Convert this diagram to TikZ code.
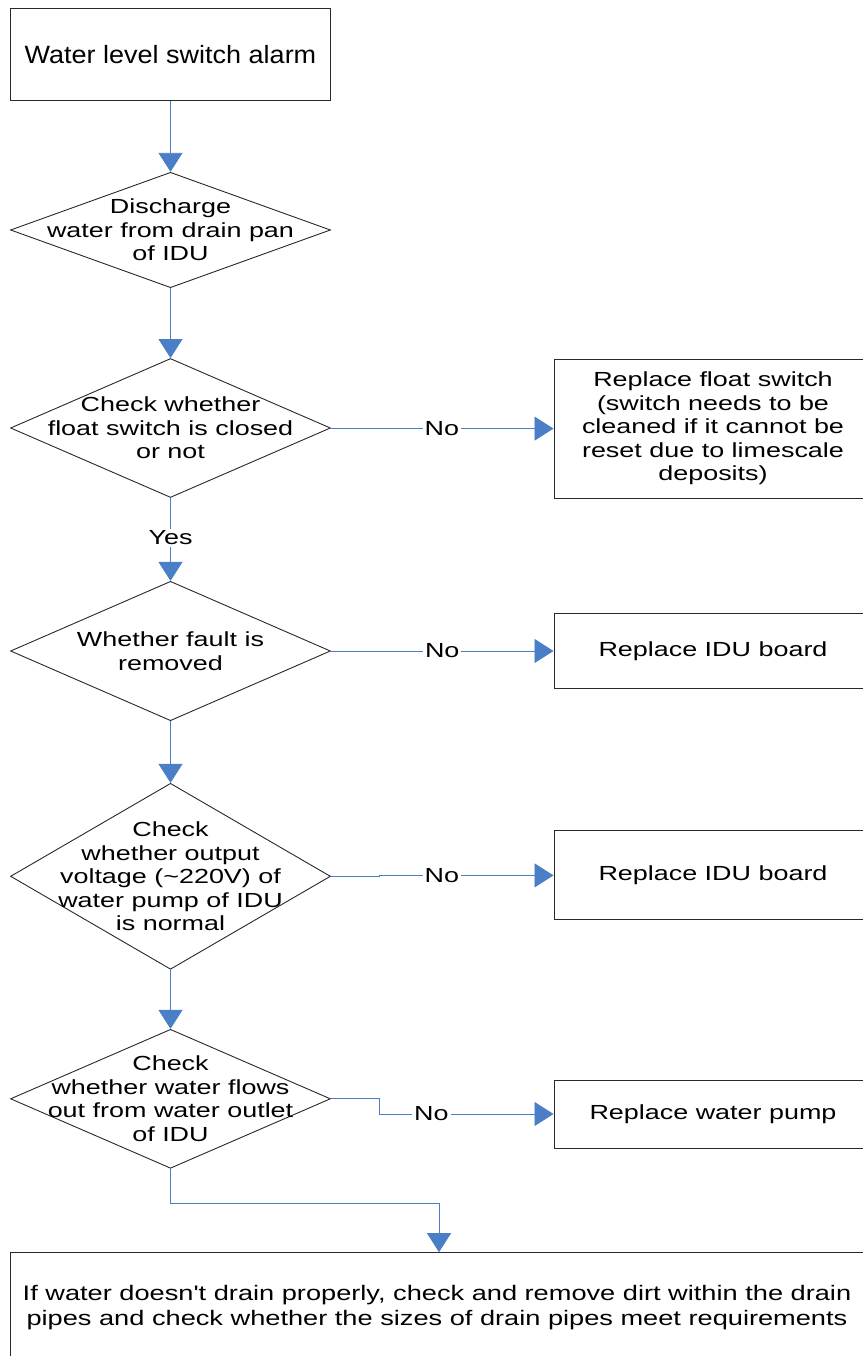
\documentclass[tikz,border=0pt]{standalone}
\usepackage{fontspec}
\setmainfont{Liberation Sans}[FakeStretch=1.32]
\newfontfamily\topfont{Liberation Sans}[FakeStretch=1.08]
\newfontfamily\finfont{Liberation Sans}[FakeStretch=1.295]
\usetikzlibrary{shapes.geometric,arrows.meta}
\definecolor{flowblue}{RGB}{74,126,199}
\definecolor{edgegray}{RGB}{40,40,40}

\tikzset{
  box/.style={draw=edgegray, line width=1pt, rectangle, inner sep=0pt, align=center},
  dia/.style={draw=edgegray, line width=0.9pt, diamond, inner sep=0pt, minimum width=320pt},
  txt/.style={align=center, inner sep=0pt, font=\fontsize{20.4}{23.5}\selectfont},
  conn/.style={draw=flowblue, line width=0.9pt,
    -{Triangle[width=24pt,length=19pt,fill=flowblue]}},
  lbl/.style={fill=white, inner sep=2pt, font=\fontsize{20.4}{23.5}\selectfont},
  sidebox/.style={box, minimum width=318pt, font=\fontsize{20.4}{23.5}\selectfont},
}

\begin{document}
\begin{tikzpicture}[x=1pt,y=-1pt]
\useasboundingbox (0,0) rectangle (862,1356);

% start
\node[box, minimum width=320pt, minimum height=92pt,
      font=\topfont\fontsize{25}{30}\selectfont] (start) at (170.5,55) {Water level switch alarm};

% decision steps down the left column
\node[dia, minimum height=115.4pt] (d1) at (170.5,230) {};
\node[txt] (t1) at (d1.center) {Discharge\\water from drain pan\\of IDU};

\node[dia, minimum height=139pt] (d2) at (170.5,428) {};
\node[txt] (t2) at (d2.center) {Check whether\\float switch is closed\\or not};

\node[dia, minimum height=139.4pt] (d3) at (170.5,651) {};
\node[txt] (t3) at (d3.center) {Whether fault is\\removed};

\node[dia, minimum height=186pt] (d4) at (170.5,876.3) {};
\node[txt] (t4) at (d4.center) {Check\\whether output\\voltage (\char"7E 220V) of\\water pump of IDU\\is normal};

\node[dia, minimum height=139pt] (d5) at (170.5,1098.8) {};
\node[txt] (t5) at (d5.center) {Check\\whether water flows\\out from water outlet\\of IDU};

% actions on the right
\node[sidebox, minimum height=139pt] (r1) at (713,428.6)
  {Replace float switch\\(switch needs to be\\cleaned if it cannot be\\reset due to limescale\\deposits)};
\node[sidebox, minimum height=75pt] (r2) at (713,651) {Replace IDU board};
\node[sidebox, minimum height=89pt] (r3) at (713,875.4) {Replace IDU board};
\node[sidebox, minimum height=68pt] (r4) at (713,1114) {Replace water pump};

% final check
\node[box, minimum width=854pt, minimum height=110pt,
      font=\finfont\fontsize{21}{25}\selectfont] (fin) at (437,1307.7)
  {If water doesn't drain properly, check and remove dirt within the drain\\pipes and check whether the sizes of drain pipes meet requirements};

% connectors
\draw[conn] (start.south) -- (d1.north);
\draw[conn] (d1.south) -- (d2.north);
\draw[conn] (d2.south) -- node[lbl, pos=0.48] (yes) {Yes} (d3.north);
\draw[conn] (d3.south) -- (d4.north);
\draw[conn] (d4.south) -- (d5.north);

\draw[conn] (d2.east) -- ++(48,0) |- node[lbl, pos=0.68] (no1) {No} (r1.west);
\draw[conn] (d3.east) -- node[lbl, pos=0.5] (no2) {No} (r2.west);
\draw[conn] (d4.east) -- ++(48,0) |- node[lbl, pos=0.68] (no3) {No} (r3.west);
\draw[conn] (d5.east) -- ++(48,0) |- node[lbl, pos=0.65] (no4) {No} (r4.west);

\coordinate (j) at (439,1203);
\draw[conn] (d5.south) |- (j) -- (fin.north -| j);
\end{tikzpicture}
\end{document}
